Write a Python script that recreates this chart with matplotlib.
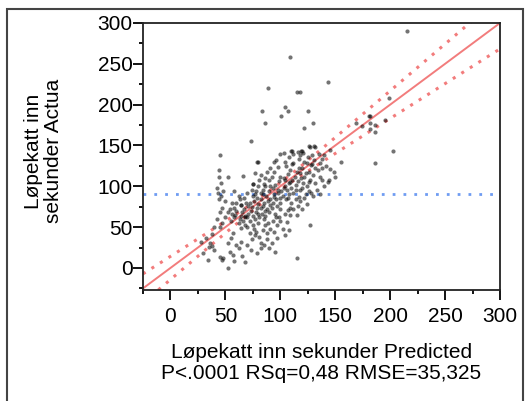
import numpy as np
import matplotlib
matplotlib.use('Agg')
import matplotlib.pyplot as plt
from matplotlib.patches import Rectangle
from matplotlib.ticker import MultipleLocator

plt.rcParams['font.family'] = ['Liberation Sans', 'DejaVu Sans']

# predicted vs actual (seconds)
predicted = [
    109, 89, 115, 118, 143, 215, 199, 83, 104, 107, 101, 125, 181, 86, 122, 130,
    169, 174, 182, 182, 186, 182, 186, 195, 203, 186, 145, 126, 131, 120, 111, 103,
    94, 155, 145, 149, 138, 73, 45, 80, 91, 66, 44, 52, 77, 82, 42, 75, 86, 91,
    110, 119, 121, 127, 132, 79, 105, 111, 117, 124, 129, 136, 143, 132, 138,
    100, 104, 109, 118, 122, 126, 75, 80, 85, 93, 98, 103, 114, 120, 126,
    77, 84, 94, 100, 107, 117, 123, 64, 72, 82, 91, 100, 109,
    46, 44, 47, 45, 50, 47, 45, 64, 68, 59, 57, 55, 32, 35, 45, 47, 52, 34, 64, 72,
    70, 75, 73, 79, 57, 82, 88, 89, 85, 80, 86, 100, 107, 109, 115, 115, 127, 97,
    64, 68, 48, 40, 38, 60, 62, 85, 90,
    55, 58, 60, 62, 63, 65, 66, 67, 68, 69, 70, 71, 72, 73, 74, 75, 76, 77, 78, 79,
    80, 80, 81, 82, 83, 84, 85, 86, 87, 88, 89, 90, 90, 91, 92, 93, 94, 95, 95, 96,
    97, 98, 99, 100, 101, 102, 103, 104, 105, 106, 107, 108, 108, 109, 110, 111, 112,
    112, 113, 114, 115, 116, 117, 118, 119, 120, 121, 122, 123, 124, 125, 126, 127,
    128, 129, 130, 131, 132, 134, 135, 136, 138, 140, 142, 76, 78, 81, 84, 86, 88,
    91, 93, 94, 96, 97, 99, 102, 104, 106, 110, 112, 114, 116, 118, 120, 122, 124,
    128, 130, 133, 136, 140, 144, 150, 62, 58, 56, 54, 52, 50, 48, 46, 44, 43, 42,
    40, 38, 36, 30, 28, 52, 54, 58, 65, 70, 74, 77, 82, 92, 95, 104, 108, 100, 96,
    92, 88, 84, 81, 78, 74, 70, 67, 63, 60, 58, 56, 112, 116, 118, 108, 104, 98, 94,
    90, 86, 82, 79, 75, 71, 68, 64,
]
actual = [
    258, 221, 215, 216, 228, 290, 208, 192, 197, 192, 186, 192, 186, 178, 172, 178,
    178, 174, 186, 178, 175, 170, 166, 181, 143, 129, 145, 149, 149, 143, 143, 141,
    130, 130, 121, 117, 108, 156, 138, 130, 122, 113, 111, 111, 116, 114, 98, 103, 110, 100,
    143, 143, 141, 148, 148, 130, 125, 127, 123, 129, 127, 111, 105, 123, 123,
    112, 108, 105, 116, 112, 105, 103, 100, 103, 98, 96, 98, 96, 98, 94,
    90, 90, 87, 86, 86, 87, 90, 77, 79, 74, 77, 72, 74,
    88, 84, 74, 68, 63, 55, 50, 77, 63, 65, 43, 37, 37, 26, 14, 10, 0, 10, 32, 43,
    50, 52, 22, 18, 16, 31, 43, 55, 60, 66, 70, 57, 71, 65, 65, 12, 52, 37,
    49, 7, 12, 22, 27, 28, 25, 28, 24,
    58, 62, 70, 55, 60, 68, 58, 72, 52, 80, 62, 66, 58, 70, 75, 64, 82, 60, 68, 73,
    78, 55, 62, 84, 66, 76, 80, 64, 88, 72, 82, 68, 94, 85, 74, 80, 90, 66, 102, 84,
    76, 92, 106, 80, 94, 88, 110, 100, 84, 95, 115, 90, 104, 120, 98, 108, 92,
    128, 112, 102, 118, 106, 134, 96, 110, 122, 104, 130, 116, 100, 136, 118, 108,
    126, 138, 114, 132, 104, 120, 140, 128, 134, 138, 125, 48, 44, 38, 46, 52, 36,
    48, 58, 44, 62, 52, 62, 48, 66, 56, 80, 72, 84, 76, 82, 72, 86, 78,
    92, 88, 96, 90, 100, 108, 112, 88, 94, 80, 72, 68, 82, 94, 104, 120, 92, 60,
    50, 42, 30, 18, 32, 30, 20, 8, 15, 28, 36, 40, 24, 30, 20, 40, 46, 140, 132,
    112, 118, 96, 108, 94, 96, 92, 86, 84, 80, 74, 66, 140, 142, 138, 136, 130, 124, 118,
    108, 100, 92, 86, 88, 76, 64, 64,
]

mean_actual = 90.5
band_a, band_b = 4.0, 0.15   # confidence curve half-width parameters
xlim = (-25, 300)
ylim = (-27, 300)

fig = plt.figure(figsize=(5.25, 4.01), dpi=100)
fig.patches.append(Rectangle((7/525, -0.05), 516/525, 1.05 - 9/401, transform=fig.transFigure,
                             fill=False, edgecolor='#444444', lw=1.5))

ax = fig.add_axes([143/525, 1 - 290/401, 357/525, 267/401])
ax.set_xlim(*xlim)
ax.set_ylim(*ylim)

ax.scatter(predicted, actual, s=9, c='black', alpha=0.55, linewidths=0, zorder=3)

# fit line with confidence curves
xs = np.linspace(xlim[0], xlim[1], 300)
half = np.sqrt(band_a**2 + (band_b * (xs - mean_actual))**2)
ax.plot(xs, xs, color='#f27c7c', lw=1.4, zorder=2)
ax.plot(xs, xs + half, color='#f27c7c', lw=2.2, ls=(0, (1, 2.3)), zorder=2)
ax.plot(xs, xs - half, color='#f27c7c', lw=2.2, ls=(0, (1, 2.3)), zorder=2)
ax.axhline(mean_actual, color='#6f9cf2', lw=2.0, ls=(0, (1, 2.9)), zorder=2)

ax.xaxis.set_major_locator(MultipleLocator(50))
ax.xaxis.set_minor_locator(MultipleLocator(25))
ax.yaxis.set_major_locator(MultipleLocator(50))
ax.yaxis.set_minor_locator(MultipleLocator(25))
ax.tick_params(which='major', length=7, width=1.3, labelsize=15)
ax.tick_params(axis='y', which='major', pad=0.5)
ax.tick_params(axis='x', which='major', pad=5)
ax.tick_params(which='minor', length=3, width=1.3)
for sp in ax.spines.values():
    sp.set_linewidth(1.3)
    sp.set_color('#222222')

ax.set_xlabel('Løpekatt inn sekunder Predicted\nP<.0001 RSq=0,48 RMSE=35,325',
              fontsize=15, linespacing=1.1, va='top')
ax.xaxis.set_label_coords(0.5, -0.2)
ax.set_ylabel('Løpekatt inn\nsekunder Actua', fontsize=15, linespacing=1.05)
ax.yaxis.set_label_coords(-0.225, 0.52)

fig.savefig('out.png', dpi=100)
